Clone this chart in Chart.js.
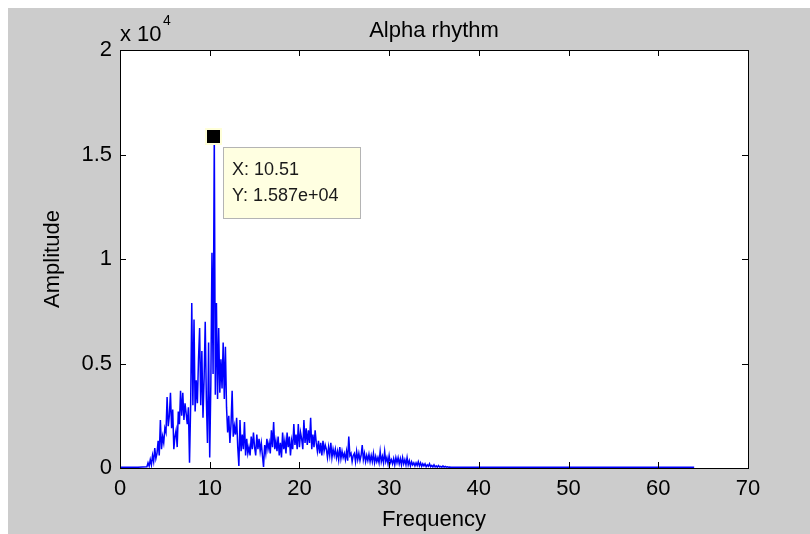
<!DOCTYPE html>
<html>
<head>
<meta charset="utf-8">
<script src="https://cdn.jsdelivr.net/npm/chart.js@4.4.1/dist/chart.umd.min.js"></script>
<style>
  html, body { margin: 0; padding: 0; background: #ffffff; }
  #wrap { position: absolute; left: 0; top: 0; width: 810px; height: 534px; }
</style>
</head>
<body>
<div id="wrap"><canvas id="alphaChart" width="810" height="534"></canvas></div>
<script>
// spectrum (Hz / amplitude), one row per Hz in the busy part
const freqs = [
  0, 1, 2,
  3, 3.125, 3.25, 3.375, 3.5, 3.625, 3.75, 3.875,
  4, 4.125, 4.25, 4.375, 4.5, 4.625, 4.75, 4.875,
  5, 5.125, 5.25, 5.375, 5.5, 5.625, 5.75, 5.875,
  6, 6.125, 6.25, 6.375, 6.5, 6.625, 6.75, 6.875,
  7, 7.125, 7.25, 7.375, 7.5, 7.625, 7.75, 7.875,
  8, 8.125, 8.25, 8.375, 8.5, 8.625, 8.75, 8.875,
  9, 9.125, 9.25, 9.375, 9.5, 9.625, 9.75, 9.875,
  10, 10.125, 10.25, 10.375, 10.51, 10.625, 10.75, 10.875,
  11, 11.125, 11.25, 11.375, 11.5, 11.625, 11.75, 11.875,
  12, 12.125, 12.25, 12.375, 12.5, 12.625, 12.75, 12.875,
  13, 13.125, 13.25, 13.375, 13.5, 13.625, 13.75, 13.875,
  14, 14.125, 14.25, 14.375, 14.5, 14.625, 14.75, 14.875,
  15, 15.125, 15.25, 15.375, 15.5, 15.625, 15.75, 15.875,
  16, 16.125, 16.25, 16.375, 16.5, 16.625, 16.75, 16.875,
  17, 17.125, 17.25, 17.375, 17.5, 17.625, 17.75, 17.875,
  18, 18.125, 18.25, 18.375, 18.5, 18.625, 18.75, 18.875,
  19, 19.125, 19.25, 19.375, 19.5, 19.625, 19.75, 19.875,
  20, 20.125, 20.25, 20.375, 20.5, 20.625, 20.75, 20.875,
  21, 21.125, 21.25, 21.375, 21.5, 21.625, 21.75, 21.875,
  22, 22.125, 22.25, 22.375, 22.5, 22.625, 22.75, 22.875,
  23, 23.125, 23.25, 23.375, 23.5, 23.625, 23.75, 23.875,
  24, 24.125, 24.25, 24.375, 24.5, 24.625, 24.75, 24.875,
  25, 25.125, 25.25, 25.375, 25.5, 25.625, 25.75, 25.875,
  26, 26.125, 26.25, 26.375, 26.5, 26.625, 26.75, 26.875,
  27, 27.125, 27.25, 27.375, 27.5, 27.625, 27.75, 27.875,
  28, 28.125, 28.25, 28.375, 28.5, 28.625, 28.75, 28.875,
  29, 29.125, 29.25, 29.375, 29.5, 29.625, 29.75, 29.875,
  30, 30.125, 30.25, 30.375, 30.5, 30.625, 30.75, 30.875,
  31, 31.125, 31.25, 31.375, 31.5, 31.625, 31.75, 31.875,
  32, 32.125, 32.25, 32.375, 32.5, 32.625, 32.75, 32.875,
  33, 33.125, 33.25, 33.375, 33.5, 33.625, 33.75, 33.875,
  34, 34.125, 34.25, 34.375, 34.5, 34.625, 34.75, 34.875,
  35, 35.125, 35.25, 35.375, 35.5, 35.625, 35.75, 35.875,
  36, 36.125, 36.25, 36.375, 36.5, 36.625, 36.75, 36.875,
  37, 38, 40, 42, 44, 46, 48, 50, 52, 54, 56, 58, 60, 62, 64
];
const amps = [
  40, 40, 40,
  60, 250, 90, 400, 150, 600, 300, 950,
  450, 700, 1300, 600, 2300, 900, 1500, 1200,
  1900, 1700, 3400, 2000, 2500, 3600, 1900, 2800,
  900, 1500, 1800, 1000, 2700, 2100, 3700, 2500,
  3600, 2300, 3100, 2600, 2100, 2900, 250, 3000,
  7900, 3000, 7100, 2700, 4200, 3100, 5200, 6700,
  3000, 5600, 2400, 4300, 7000, 3300, 1200, 6000,
  500, 4000, 10300, 4500, 15870, 3500, 7900, 3300,
  6700, 3600, 5200, 3800, 6000, 3300, 5800, 2900,
  1700, 2500, 1200, 2100, 3700, 1500, 2000, 1600,
  2400, 1000, 100, 2300, 800, 1600, 900, 2200,
  600, 1400, 700, 1000, 600, 1500, 900, 1700,
  1000, 600, 1600, 900, 1400, 800, 1200, 600,
  50, 1100, 700, 1400, 900, 1200, 700, 1800,
  1000, 2200, 900, 1300, 800, 1500, 600, 1200,
  500, 1700, 900, 1300, 700, 1700, 1000, 1500,
  600, 1300, 900, 2100, 1100, 1600, 900, 2100,
  1000, 1700, 1400, 900, 2300, 1200, 1900, 1100,
  1800, 1200, 2400, 900, 1600, 1000, 1800, 1200,
  800, 1300, 700, 1200, 600, 1300, 800, 1100,
  900, 500, 1000, 600, 1200, 500, 900, 600,
  900, 500, 800, 400, 1000, 450, 800, 500,
  700, 400, 800, 350, 1500, 600, 700, 300,
  600, 700, 300, 800, 400, 700, 350, 600,
  1100, 400, 700, 300, 600, 350, 650, 300,
  600, 300, 700, 250, 550, 300, 500, 250,
  800, 300, 550, 250, 800, 300, 500, 200,
  600, 250, 400, 200, 450, 150, 500, 250,
  500, 200, 450, 150, 500, 200, 400, 150,
  500, 150, 350, 100, 300, 150, 250, 100,
  250, 120, 300, 100, 250, 80, 200, 100,
  200, 60, 150, 80, 200, 60, 120, 50,
  150, 50, 100, 40, 120, 50, 80, 40,
  100, 40, 80, 40, 60, 40, 50, 40,
  40, 40, 40, 40, 40, 40, 40, 40, 40, 40, 40, 40, 40, 40, 40
];
const xTicks = [0, 10, 20, 30, 40, 50, 60, 70];
const yTicks = [0, 5000, 10000, 15000, 20000];
const tipIndex = amps.indexOf(Math.max(...amps)); // data tip sits on the peak

Chart.defaults.font.family = "'Liberation Sans', Arial, sans-serif";
Chart.defaults.font.size = 22;
Chart.defaults.color = '#000';

function fmtExp(v) {
  const s = v.toExponential(3).split('e');
  const e = parseInt(s[1], 10);
  return s[0] + 'e' + (e < 0 ? '-' : '+') + String(Math.abs(e)).padStart(2, '0');
}

const matlabFrame = {
  id: 'matlabFrame',
  beforeDraw(chart) {
    const ctx = chart.ctx, a = chart.chartArea;
    ctx.save();
    ctx.fillStyle = '#cccccc';
    ctx.fillRect(8, 8, chart.width - 8, chart.height - 8);
    ctx.fillStyle = '#ffffff';
    ctx.fillRect(a.left, a.top, a.right - a.left, a.bottom - a.top);
    ctx.restore();
  },
  afterDraw(chart) {
    const ctx = chart.ctx, a = chart.chartArea;
    const xs = chart.scales.x, ys = chart.scales.y;
    ctx.save();
    ctx.strokeStyle = '#000';
    ctx.lineWidth = 1;
    ctx.strokeRect(a.left + 0.5, a.top + 0.5, a.right - a.left, a.bottom - a.top);
    ctx.beginPath();
    xTicks.forEach(v => {
      const p = Math.round(xs.getPixelForValue(v)) + 0.5;
      ctx.moveTo(p, a.bottom); ctx.lineTo(p, a.bottom - 6);
      ctx.moveTo(p, a.top); ctx.lineTo(p, a.top + 6);
    });
    yTicks.forEach(v => {
      const p = Math.round(ys.getPixelForValue(v)) + 0.5;
      ctx.moveTo(a.left, p); ctx.lineTo(a.left + 6, p);
      ctx.moveTo(a.right, p); ctx.lineTo(a.right - 6, p);
    });
    ctx.stroke();

    // title and exponent
    ctx.fillStyle = '#000';
    ctx.font = "22px 'Liberation Sans', Arial, sans-serif";
    ctx.textAlign = 'center';
    ctx.textBaseline = 'middle';
    ctx.fillText('Alpha rhythm', (a.left + a.right) / 2, 31);
    ctx.textAlign = 'left';
    ctx.fillText('x 10', a.left, 35);
    ctx.font = "14px 'Liberation Sans', Arial, sans-serif";
    ctx.fillText('4', a.left + 43, 21);

    // data tip
    const px = Math.round(xs.getPixelForValue(freqs[tipIndex]));
    const py = Math.round(ys.getPixelForValue(amps[tipIndex]));
    ctx.fillStyle = '#ffffd8';
    ctx.fillRect(px - 9, py - 8, 17, 17);
    ctx.fillStyle = '#000';
    ctx.fillRect(px - 7, py - 6, 13, 13);
    const bx = px + 9, by = py + 11;
    ctx.fillStyle = '#ffffe1';
    ctx.fillRect(bx, by, 138, 72);
    ctx.strokeStyle = '#b4b4b4';
    ctx.strokeRect(bx + 0.5, by + 0.5, 137, 71);
    ctx.fillStyle = '#1a1a1a';
    ctx.font = "18px 'Liberation Sans', Arial, sans-serif";
    ctx.textAlign = 'left';
    ctx.textBaseline = 'middle';
    ctx.fillText('X: ' + freqs[tipIndex], bx + 9, by + 23);
    ctx.fillText('Y: ' + fmtExp(amps[tipIndex]), bx + 9, by + 49);
    ctx.restore();
  }
};

new Chart(document.getElementById('alphaChart'), {
  type: 'line',
  data: {
    datasets: [{
      data: freqs.map((f, i) => ({ x: f, y: amps[i] })),
      borderColor: '#0000ff',
      borderWidth: 1.5,
      pointRadius: 0,
      tension: 0,
      fill: false
    }]
  },
  options: {
    responsive: false,
    animation: false,
    layout: { padding: { top: 50, right: 62, left: 0, bottom: 0 } },
    scales: {
      x: {
        type: 'linear',
        min: 0,
        max: 70,
        afterFit: s => { s.height = 66; },
        afterBuildTicks: s => { s.ticks = xTicks.map(v => ({ value: v })); },
        ticks: { padding: 8, maxRotation: 0 },
        grid: { display: false, drawTicks: false },
        border: { display: false },
        title: { display: true, text: 'Frequency', padding: { top: 0, bottom: 1 } }
      },
      y: {
        min: 0,
        max: 20000,
        afterFit: s => { s.width = 120; },
        afterBuildTicks: s => { s.ticks = yTicks.map(v => ({ value: v })); },
        ticks: { padding: 8, callback: v => String(v / 10000) },
        grid: { display: false, drawTicks: false },
        border: { display: false },
        title: { display: true, text: 'Amplitude', padding: { top: 40, bottom: 0 } }
      }
    },
    plugins: {
      legend: { display: false },
      tooltip: { enabled: false }
    }
  },
  plugins: [matlabFrame]
});
</script>
</body>
</html>
